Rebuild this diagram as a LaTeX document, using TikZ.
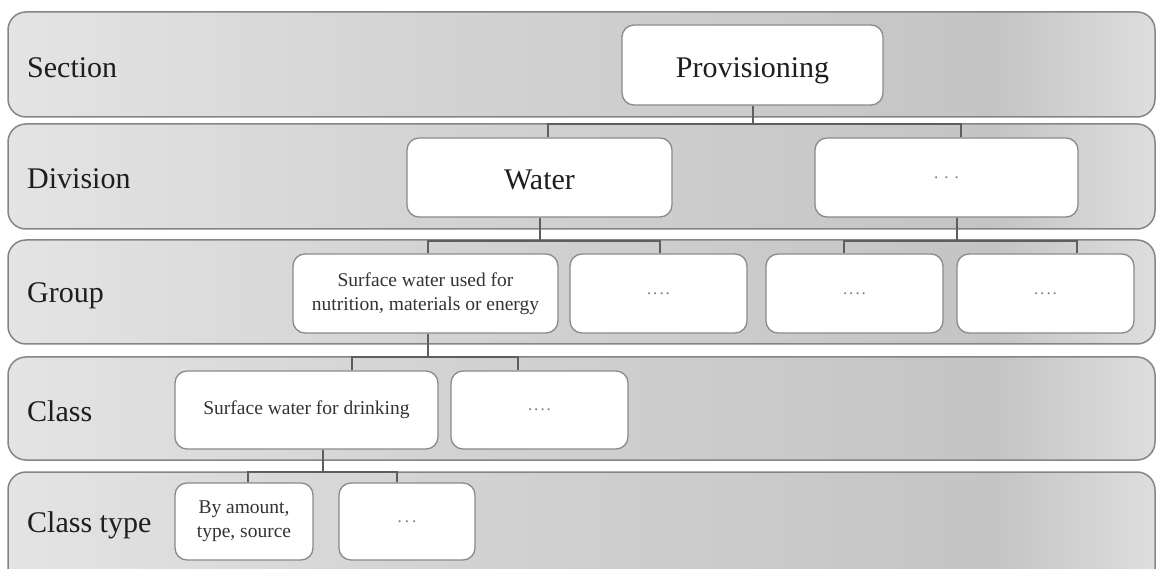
\documentclass[tikz,border=0pt]{standalone}
\usepackage{fontspec}
\setmainfont{Liberation Serif}
\definecolor{bl}{HTML}{E4E4E4}
\definecolor{bm}{HTML}{D4D4D4}
\definecolor{bd}{HTML}{C4C4C4}
\definecolor{br}{HTML}{DEDEDE}
\definecolor{bandborder}{HTML}{858585}
\definecolor{boxborder}{HTML}{8A8A8A}
\definecolor{connc}{HTML}{5E5E5E}
\definecolor{labc}{HTML}{1E1E1E}
\definecolor{txtc}{HTML}{333333}
\definecolor{dotc}{HTML}{7A7A7A}
\pgfdeclarehorizontalshading{bandsh}{100bp}{color(0bp)=(bl); color(25bp)=(bl); color(42bp)=(bm); color(68bp)=(bd); color(75bp)=(br); color(100bp)=(br)}
\begin{document}
\begin{tikzpicture}[x=1pt,y=-1pt,
  band/.style={draw=bandborder, line width=1.5pt, rounded corners=18pt, shading=bandsh},
  box/.style={draw=boxborder, line width=1.3pt, fill=white, rounded corners=12pt, inner sep=0pt, align=center},
  bigtxt/.style={font=\fontsize{30}{34}\selectfont, text=labc},
  smalltxt/.style={font=\fontsize{19.5}{24}\selectfont, text=txtc},
  dottxt/.style={font=\fontsize{17}{17}\selectfont, text=dotc},
  conn/.style={draw=connc, line width=2pt},
  lab/.style={anchor=west, font=\fontsize{30}{34}\selectfont, text=labc, inner sep=0pt}]
\useasboundingbox (0,0) rectangle (1157,569);
\clip (0,0) rectangle (1157,569);
\fill[white] (0,0) rectangle (1157,569);
% bands
\path[band] (8,12) rectangle (1155,117);
\path[band] (8,124) rectangle (1155,229);
\path[band] (8,240) rectangle (1155,344);
\path[band] (8,357) rectangle (1155,460);
\path[band] (8,472) rectangle (1155,600);
% band labels
\node[lab] (lsec) at (27,68) {Section};
\node[lab] (ldiv) at (27,179) {Division};
\node[lab] (lgrp) at (27,296) {Group};
\node[lab] (lcls) at (27,411) {Class};
\node[lab] (ltyp) at (27,525) {Class type};
% nodes
\node[box, bigtxt, minimum width=261, minimum height=80] (prov) at (752.5,65) {\raisebox{-13pt}[0pt][0pt]{Provisioning}};
\node[box, bigtxt, minimum width=265, minimum height=79] (water) at (539.5,177.5) {\raisebox{-12pt}[0pt][0pt]{Water}};
\node[box, dottxt, minimum width=263, minimum height=79] (div2) at (946.5,177.5) {.\hspace{6pt}.\hspace{6pt}.};
\node[box, smalltxt, minimum width=265, minimum height=79] (g1) at (425.5,293.5) {Surface water used for\\nutrition, materials or energy};
\node[box, dottxt, minimum width=177, minimum height=79] (g2) at (658.5,293.5) {.\hspace{2pt}.\hspace{2pt}.\hspace{2pt}.};
\node[box, dottxt, minimum width=177, minimum height=79] (g3) at (854.5,293.5) {.\hspace{2pt}.\hspace{2pt}.\hspace{2pt}.};
\node[box, dottxt, minimum width=177, minimum height=79] (g4) at (1045.5,293.5) {.\hspace{2pt}.\hspace{2pt}.\hspace{2pt}.};
\node[box, smalltxt, minimum width=263, minimum height=78] (c1) at (306.5,410) {Surface water for drinking};
\node[box, dottxt, minimum width=177, minimum height=78] (c2) at (539.5,410) {.\hspace{2pt}.\hspace{2pt}.\hspace{2pt}.};
\node[box, smalltxt, minimum width=138, minimum height=77] (t1) at (244,521.5) {By amount,\\type, source};
\node[box, dottxt, minimum width=136, minimum height=77] (t2) at (407,521.5) {.\hspace{3pt}.\hspace{3pt}.};
% junctions
\coordinate (j1) at (752.5,124);
\coordinate (j2) at (539.5,241);
\coordinate (j3) at (957,241);
\coordinate (j4) at (428,357);
\coordinate (j5) at (323,472);
% connectors
\draw[conn] (prov.south) -- (j1);
\draw[conn] ([xshift=8.5pt]water.north) |- (j1) -| ([xshift=14.5pt]div2.north);
\draw[conn] (water.south) -- (j2);
\draw[conn] ([xshift=2.5pt]g1.north) |- (j2) -| ([xshift=1.5pt]g2.north);
\draw[conn] ([xshift=10.5pt]div2.south) -- (j3);
\draw[conn] ([xshift=-10.5pt]g3.north) |- (j3) -| ([xshift=31.5pt]g4.north);
\draw[conn] ([xshift=2.5pt]g1.south) -- (j4);
\draw[conn] ([xshift=45.5pt]c1.north) |- (j4) -| ([xshift=-21.5pt]c2.north);
\draw[conn] ([xshift=16.5pt]c1.south) -- (j5);
\draw[conn] ([xshift=4pt]t1.north) |- (j5) -| ([xshift=-10pt]t2.north);
\end{tikzpicture}
\end{document}
